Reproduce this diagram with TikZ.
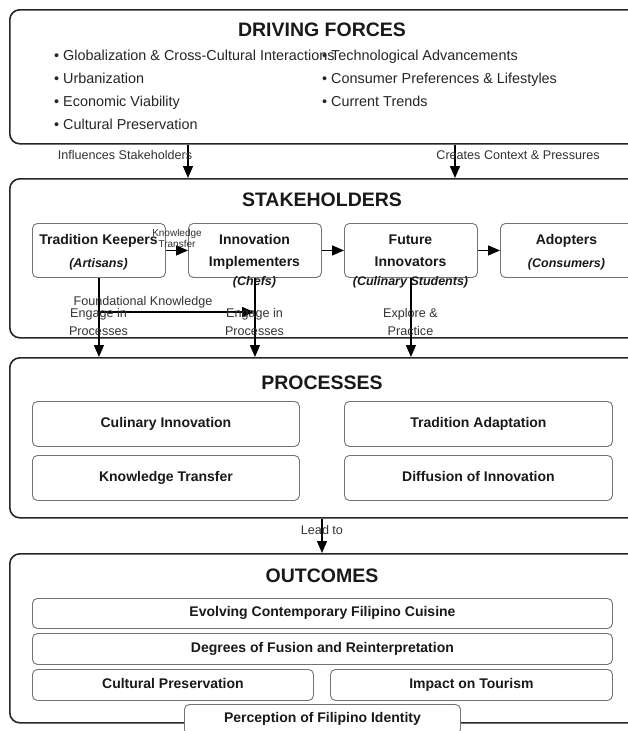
\documentclass[tikz,border=0pt]{standalone}
\usepackage{fontspec}
\setmainfont{Liberation Sans}
\usetikzlibrary{arrows.meta}
\begin{document}
\begin{tikzpicture}[x=1pt,y=-1pt,
 outer/.style={draw=black!85, line width=1.6pt, rounded corners=10pt, fill=white, anchor=north west, inner sep=0pt},
 inbox/.style={draw=black!55, line width=0.9pt, rounded corners=5pt, fill=white, anchor=north west, inner sep=0pt,
   font=\fontsize{14}{16}\selectfont\bfseries, text=black!90, text height=10pt, text depth=3pt},
 ttl/.style={font=\fontsize{19.5}{22}\selectfont\bfseries, text=black!90, inner sep=0pt, text height=14pt, text depth=0pt},
 bul/.style={anchor=west, font=\fontsize{14.4}{16}\selectfont, text=black!85, inner sep=0pt, text height=10.4pt, text depth=3pt},
 lbl/.style={font=\fontsize{12.6}{18}\selectfont, text=black!80, inner sep=0pt, align=center, text height=9pt, text depth=2.6pt},
 lbltwo/.style={font=\fontsize{12.6}{18}\selectfont, text=black!80, inner sep=0pt, align=center, anchor=base},
 small/.style={font=\fontsize{10}{11}\selectfont, text=black!80, inner sep=0pt, align=center, anchor=base},
 bt/.style={font=\fontsize{14}{16}\selectfont\bfseries, text=black!90, inner sep=0pt, text height=10pt, text depth=3pt},
 itx/.style={font=\fontsize{12.5}{14}\selectfont\bfseries\itshape, text=black!90, inner sep=0pt, text height=9pt, text depth=2.6pt},
 arr/.style={draw=black, line width=1.4pt, -{Triangle[length=12pt,width=10pt]}},
]
\useasboundingbox (0,0) rectangle (628,731);
\clip (0,0) rectangle (628,731);
\fill[white] (0,0) rectangle (628,731);

% outer boxes
\node[outer, minimum width=640pt, minimum height=134pt] (df) at (9,9) {};
\node[outer, minimum width=640pt, minimum height=159pt] (sh) at (9,178) {};
\node[outer, minimum width=640pt, minimum height=160pt] (pr) at (9,357) {};
\node[outer, minimum width=640pt, minimum height=169pt] (oc) at (9,553) {};

% titles
\node[ttl] (dft) at (322,29) {DRIVING FORCES};
\node[ttl] (sht) at (322,199) {STAKEHOLDERS};
\node[ttl] (prt) at (322,382) {PROCESSES};
\node[ttl] (oct) at (322,575) {OUTCOMES};

% driving forces bullets
\node[bul] (b1) at (54,57) {• Globalization \& Cross-Cultural Interactions};
\node[bul] (b2) at (54,80) {• Urbanization};
\node[bul] (b3) at (54,103) {• Economic Viability};
\node[bul] (b4) at (54,126) {• Cultural Preservation};
\node[bul] (b5) at (322,57) {• Technological Advancements};
\node[bul] (b6) at (322,80) {• Consumer Preferences \& Lifestyles};
\node[bul] (b7) at (322,103) {• Current Trends};

% stakeholders
\node[inbox, minimum width=133pt, minimum height=54pt] (tk) at (32,223) {};
\node[inbox, minimum width=133pt, minimum height=54pt] (ii) at (188,223) {};
\node[inbox, minimum width=133pt, minimum height=54pt] (fi) at (344,223) {};
\node[inbox, minimum width=133pt, minimum height=54pt] (ad) at (500,223) {};

\node[bt] (tk1) at (98.5,241) {Tradition Keepers};
\node[itx] (tk2) at (98.5,264) {(Artisans)};
\node[bt] (ii1) at (254.5,241) {Innovation};
\node[bt] (ii2) at (254.5,263) {Implementers};
\node[itx] (ii3) at (254.5,282) {(Chefs)};
\node[bt] (fi1) at (410.5,241) {Future};
\node[bt] (fi2) at (410.5,263) {Innovators};
\node[itx] (fi3) at (410.5,282) {(Culinary Students)};
\node[bt] (ad1) at (566.5,241) {Adopters};
\node[itx] (ad2) at (566.5,264) {(Consumers)};

% processes
\node[inbox, minimum width=267pt, minimum height=45pt] (ci) at (32,401) {Culinary Innovation};
\node[inbox, minimum width=268pt, minimum height=45pt] (ta) at (344,401) {Tradition Adaptation};
\node[inbox, minimum width=267pt, minimum height=45pt] (kt) at (32,455) {Knowledge Transfer};
\node[inbox, minimum width=268pt, minimum height=45pt] (di) at (344,455) {Diffusion of Innovation};

% outcomes
\node[inbox, minimum width=580pt, minimum height=30pt] (ev) at (32,598) {Evolving Contemporary Filipino Cuisine};
\node[inbox, minimum width=580pt, minimum height=31pt] (dg) at (32,633) {Degrees of Fusion and Reinterpretation};
\node[inbox, minimum width=281pt, minimum height=31pt] (cp) at (32,669) {Cultural Preservation};
\node[inbox, minimum width=282pt, minimum height=31pt] (it) at (330,669) {Impact on Tourism};
\node[inbox, minimum width=276pt, minimum height=30pt] (pf) at (184,704) {Perception of Filipino Identity};

% connectors
\coordinate (c1) at (188,0);
\coordinate (c2) at (455,0);
\coordinate (c3) at (322,0);
\coordinate (fk) at (254,312);
\draw[arr] (c1 |- df.south) -- (c1 |- sh.north);
\draw[arr] (c2 |- df.south) -- (c2 |- sh.north);
\draw[arr] (tk.east) -- (ii.west);
\draw[arr] (ii.east) -- (fi.west);
\draw[arr] (fi.east) -- (ad.west);
\draw[arr] (tk.south) |- (fk);
\draw[arr] (tk.south) -- (tk.south |- pr.north);
\draw[arr] (ii.south) -- (ii.south |- pr.north);
\draw[arr] (fi.south) -- (fi.south |- pr.north);
\draw[arr] (c3 |- pr.south) -- (c3 |- oc.north);

% connector labels
\node[lbl] (l1) at (125,156) {Influences Stakeholders};
\node[lbl] (l2) at (518,156) {Creates Context \& Pressures};
\node[small] (l3) at (177,247) {Knowledge\\Transfer};
\node[lbl] (l4) at (143,302) {Foundational Knowledge};
\node[lbltwo] (l5) at (98.5,335.5) {Engage in\\Processes};
\node[lbltwo] (l6) at (254.5,335.5) {Engage in\\Processes};
\node[lbltwo] (l7) at (410.5,335.5) {Explore \&\\Practice};
\node[lbl] (l8) at (322,531) {Lead to};
\end{tikzpicture}
\end{document}
